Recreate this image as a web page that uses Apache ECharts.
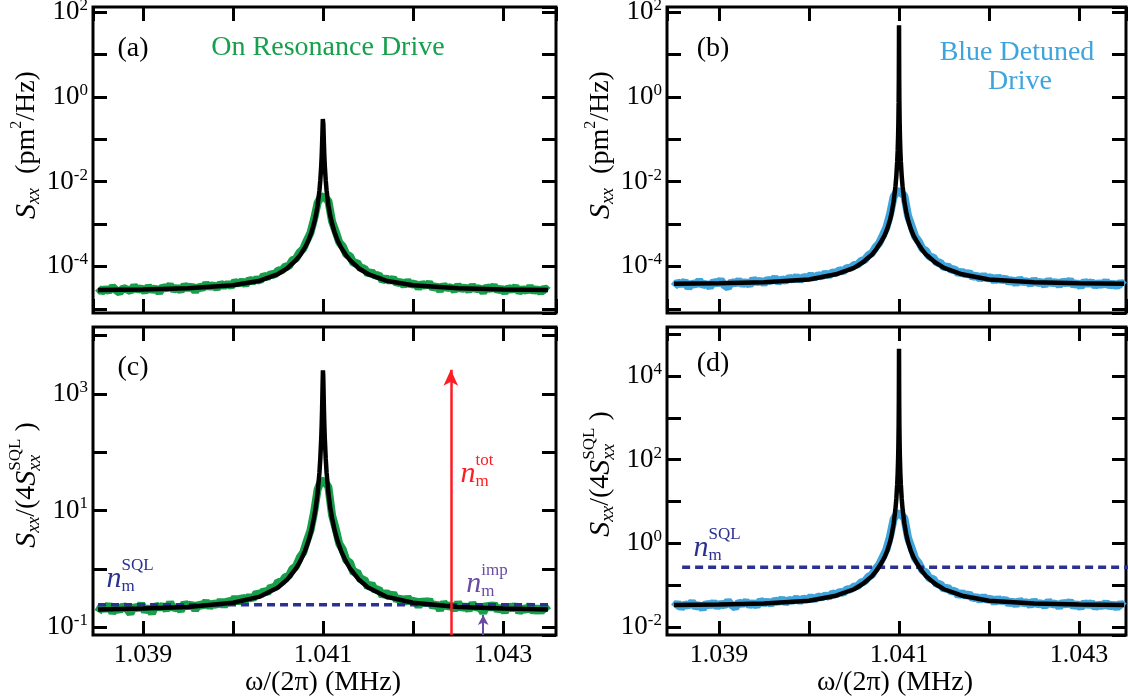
<!DOCTYPE html>
<html><head><meta charset="utf-8">
<script src="https://cdn.jsdelivr.net/npm/echarts@6/dist/echarts.min.js"></script>
<style>html,body{margin:0;padding:0;background:#fff}#c{width:1128px;height:697px}</style>
</head><body><div id="c"></div>
<script>
// ---------------- DATA ----------------
// measurement frequency grid (MHz)
const freqStart = 1.0385, freqStep = 0.00004, freqCount = 126;
// x tick labels
const xLabelVals = [1.039, 1.041, 1.043];
// y tick label exponents per panel
const yLabA = [2, 0, -2, -4], yLabB = [2, 0, -2, -4], yLabC = [3, 1, -1], yLabD = [4, 2, 0, -2];

// (a) On resonance drive, measured S_xx (pm^2/Hz)
const greenA = [3.1e-5,2.5e-5,2.95e-5,2.6e-5,3.3e-5,2.75e-5,2.4e-5,3.1e-5,2.85e-5,2.6e-5,
3.45e-5,2.75e-5,3.1e-5,2.5e-5,3.35e-5,2.7e-5,3.1e-5,2.4e-5,3.35e-5,2.95e-5,
3.6e-5,2.75e-5,3.2e-5,2.65e-5,3.6e-5,2.95e-5,3.5e-5,2.55e-5,3.4e-5,3.0e-5,
3.9e-5,3.2e-5,3.7e-5,3.0e-5,3.95e-5,3.4e-5,3.9e-5,3.4e-5,4.4e-5,3.85e-5,
4.5e-5,3.7e-5,4.9e-5,4.35e-5,5.0e-5,4.55e-5,6.1e-5,5.5e-5,6.7e-5,6.2e-5,
8.1e-5,7.9e-5,1.0e-4,1.01e-4,1.4e-4,1.53e-4,2.14e-4,2.6e-4,4.1e-4,6.1e-4,
1.29e-3,3.16e-3,4.5e-3,
4.2e-3,3.46e-3,1.16e-3,6.7e-4,3.7e-4,2.96e-4,1.9e-4,1.75e-4,1.17e-4,1.22e-4,
8.9e-5,9.0e-5,6.5e-5,7.5e-5,5.9e-5,6.3e-5,4.6e-5,5.3e-5,4.45e-5,5.25e-5,
3.95e-5,4.4e-5,3.55e-5,4.5e-5,3.65e-5,4.05e-5,3.1e-5,3.95e-5,3.4e-5,4.1e-5,
3.05e-5,3.5e-5,2.7e-5,3.6e-5,3.05e-5,3.25e-5,2.7e-5,3.55e-5,2.85e-5,3.25e-5,
2.7e-5,3.5e-5,2.85e-5,3.1e-5,2.45e-5,3.3e-5,2.85e-5,3.5e-5,2.65e-5,3.05e-5,
2.45e-5,3.15e-5,2.75e-5,3.3e-5,2.5e-5,2.95e-5,2.6e-5,3.3e-5,2.55e-5,3.0e-5,
2.4e-5,3.1e-5,2.65e-5];
// (b) Blue detuned drive, measured S_xx (pm^2/Hz)
const blueB = [3.3e-5,4.25e-5,3.7e-5,4.45e-5,3.1e-5,4.1e-5,3.6e-5,4.7e-5,3.55e-5,3.95e-5,
3.25e-5,4.45e-5,3.85e-5,4.75e-5,3.55e-5,3.15e-5,4.4e-5,3.85e-5,4.7e-5,3.7e-5,
4.35e-5,3.6e-5,5.05e-5,4.1e-5,4.7e-5,3.9e-5,4.95e-5,4.4e-5,5.35e-5,4.2e-5,
5.0e-5,4.5e-5,5.45e-5,4.85e-5,5.8e-5,4.65e-5,5.7e-5,5.25e-5,6.2e-5,5.3e-5,
6.25e-5,5.75e-5,6.85e-5,6.1e-5,7.2e-5,7.0e-5,8.15e-5,7.6e-5,9.2e-5,9.1e-5,
1.08e-4,1.1e-4,1.35e-4,1.43e-4,1.84e-4,2.07e-4,2.84e-4,3.55e-4,5.4e-4,8.3e-4,
1.69e-3,4.35e-3,6.0e-3,
5.5e-3,4.57e-3,1.57e-3,8.9e-4,5.0e-4,3.88e-4,2.59e-4,2.34e-4,1.65e-4,1.65e-4,
1.22e-4,1.23e-4,9.3e-5,1.02e-4,8.2e-5,8.55e-5,6.7e-5,7.7e-5,6.3e-5,7.15e-5,
5.55e-5,6.2e-5,5.0e-5,6.15e-5,5.1e-5,5.65e-5,4.45e-5,5.65e-5,4.6e-5,5.3e-5,
4.2e-5,4.9e-5,3.85e-5,5.05e-5,4.15e-5,4.6e-5,3.75e-5,4.85e-5,3.95e-5,4.4e-5,
3.55e-5,4.8e-5,3.85e-5,4.4e-5,3.55e-5,4.55e-5,3.85e-5,4.75e-5,3.55e-5,4.15e-5,
3.3e-5,4.5e-5,3.75e-5,4.35e-5,3.4e-5,4.15e-5,3.5e-5,4.55e-5,3.4e-5,4.05e-5,
3.3e-5,4.25e-5,3.55e-5];
// (c) On resonance, S_xx/(4 S_xx^SQL)
const greenC = [0.18,0.23,0.195,0.245,0.175,0.215,0.19,0.235,0.205,0.17,
0.23,0.2,0.25,0.185,0.22,0.17,0.24,0.21,0.235,0.195,
0.265,0.205,0.225,0.19,0.26,0.22,0.25,0.195,0.25,0.225,
0.275,0.22,0.26,0.235,0.285,0.23,0.285,0.265,0.32,0.26,
0.325,0.29,0.335,0.3,0.39,0.35,0.42,0.385,0.49,0.46,
0.6,0.58,0.72,0.75,1.0,1.1,1.55,1.9,3.0,4.5,
9.2,23,33,
31,25.3,8.4,4.9,2.7,2.13,1.39,1.27,0.85,0.88,
0.64,0.66,0.48,0.545,0.425,0.45,0.34,0.4,0.32,0.38,
0.285,0.32,0.255,0.325,0.265,0.29,0.225,0.29,0.245,0.295,
0.22,0.255,0.195,0.265,0.22,0.24,0.195,0.265,0.205,0.235,
0.195,0.255,0.21,0.225,0.175,0.245,0.205,0.25,0.19,0.225,
0.18,0.235,0.2,0.24,0.18,0.215,0.19,0.24,0.18,0.22,
0.18,0.225,0.19];
// (d) Blue detuned, S_xx/(4 S_xx^SQL)
const blueD = [0.030,0.0375,0.0285,0.0353,0.032,0.04,0.0297,0.0346,0.0272,0.0376,
0.0319,0.0394,0.03,0.0368,0.0321,0.0419,0.0334,0.029,0.0392,0.035,
0.041,0.0326,0.0382,0.0316,0.0437,0.0362,0.0414,0.035,0.0442,0.0388,
0.0473,0.0375,0.0446,0.0419,0.0485,0.0409,0.0487,0.0444,0.0524,0.0454,
0.054,0.0508,0.0568,0.0528,0.0643,0.0594,0.0692,0.0651,0.0795,0.0785,
0.0934,0.095,0.117,0.124,0.159,0.178,0.245,0.311,0.469,0.72,
1.46,3.76,5.2,
4.9,3.96,1.36,0.77,0.432,0.336,0.224,0.202,0.142,0.142,
0.105,0.107,0.0804,0.0895,0.0701,0.0738,0.0566,0.0665,0.0541,0.0625,
0.0475,0.0533,0.0434,0.0538,0.0438,0.0488,0.0378,0.0486,0.0401,0.046,
0.0356,0.0427,0.0331,0.0438,0.0365,0.04,0.0323,0.0429,0.034,0.0378,
0.0309,0.042,0.0338,0.0375,0.0299,0.0395,0.0334,0.0412,0.0307,0.0361,
0.0286,0.0388,0.0326,0.0383,0.0292,0.0356,0.0304,0.0392,0.0296,0.0356,
0.0285,0.0369,0.031];

// Lorentzian fit curves (black)
const fitFreq = [1.0385,1.039,1.0395,1.04,1.0403,1.0405,1.0406,1.0407,1.04075,1.0408,1.04084,1.04087,1.0409,
1.04092,1.04094,1.04096,1.04097,1.04098,1.040985,1.04099,1.040993,1.040996,1.040998,1.040999,1.041,
1.041001,1.041002,1.041004,1.041007,1.04101,1.041015,1.04102,1.04103,1.04104,1.04106,1.04108,1.0411,
1.04113,1.04116,1.0412,1.04125,1.0413,1.0414,1.0415,1.0417,1.042,1.0425,1.043,1.0435];
const fitA = [2.76e-5,2.85e-5,3.04e-5,3.6e-5,4.6e-5,6.6e-5,8.9e-5,1.4e-4,1.9e-4,2.8e-4,4.2e-4,6.2e-4,1.03e-3,
1.56e-3,2.75e-3,6.1e-3,1.08e-2,2.33e-2,3.9e-2,7.7e-2,0.128,0.22,0.30,0.33,0.34,
0.33,0.30,0.22,0.128,7.7e-2,3.9e-2,2.33e-2,1.08e-2,6.1e-3,2.75e-3,1.56e-3,1.03e-3,
6.2e-4,4.2e-4,2.8e-4,1.9e-4,1.4e-4,8.9e-5,6.6e-5,4.6e-5,3.6e-5,3.04e-5,2.85e-5,2.76e-5];
const fitB = [3.89e-5,4.0e-5,4.23e-5,4.9e-5,6.5e-5,9.2e-5,1.25e-4,1.9e-4,2.6e-4,3.8e-4,5.4e-4,7.8e-4,1.25e-3,
1.92e-3,3.37e-3,7.54e-3,1.33e-2,3.0e-2,5.3e-2,0.12,0.244,0.74,2.83,9.6,49,
9.6,2.83,0.74,0.244,0.12,5.3e-2,3.0e-2,1.33e-2,7.54e-3,3.37e-3,1.92e-3,1.25e-3,
7.8e-4,5.4e-4,3.8e-4,2.6e-4,1.9e-4,1.25e-4,9.2e-5,6.5e-5,4.9e-5,4.23e-5,4.0e-5,3.89e-5];
const fitC = [0.2,0.207,0.22,0.261,0.333,0.478,0.645,1.01,1.38,2.03,3.05,4.5,7.47,
11.3,19.9,44.2,78.3,169,283,558,928,1595,2175,2550,2750,
2550,2175,1595,928,558,283,169,78.3,44.2,19.9,11.3,7.47,
4.5,3.05,2.03,1.38,1.01,0.645,0.478,0.333,0.261,0.22,0.207,0.2];
const fitD = [0.0336,0.0346,0.0366,0.0424,0.056,0.08,0.108,0.165,0.225,0.33,0.467,0.675,1.08,
1.66,2.92,6.5,11.5,26,46,104,211,640,2450,8300,45000,
8300,2450,640,211,104,46,26,11.5,6.5,2.92,1.66,1.08,
0.675,0.467,0.33,0.225,0.165,0.108,0.08,0.056,0.0424,0.0366,0.0346,0.0336];

// annotation levels
const sqlLevelC = 0.24, sqlSpanC = [1.0385, 1.0435];
const sqlLevelD = 0.27, sqlSpanD = [1.03859, 1.04357];
const nTotFreq = 1.04242, nTotTop = 2600;
const nImpFreq = 1.04278, nImpTop = 0.16;

// ---------------- STYLE ----------------
const FONT = 'Liberation Serif';
const GREEN = '#16a04b', BLUE = '#3fa4dc', NAVY = '#2b3190', RED = '#ff1d25', PURPLE = '#6a4ba2';

const dataFreq = [];
for (let i = 0; i < freqCount; i++) dataFreq.push(+(freqStart + i * freqStep).toFixed(6));
const pairs = (xs, ys) => ys.map((v, i) => [xs[i], v]);

const panels = [
  {grid:{left:93, top:7, width:463, height:306}, x:[1.038444,1.043589], y:[7.94e-6,131.8], lab:yLabA, data:greenA, fit:fitA, col:GREEN, showX:false},
  {grid:{left:667, top:7, width:459, height:306}, x:[1.038422,1.043522], y:[7.94e-6,131.8], lab:yLabB, data:blueB, fit:fitB, col:BLUE, showX:false},
  {grid:{left:93, top:327, width:463, height:308}, x:[1.038444,1.043589], y:[0.0729,14125], lab:yLabC, data:greenC, fit:fitC, col:GREEN, showX:true},
  {grid:{left:667, top:327, width:459, height:308}, x:[1.038422,1.043522], y:[0.00645,148000], lab:yLabD, data:blueD, fit:fitD, col:BLUE, showX:true}
];

const tickStyle = {show:true, inside:true, length:14, lineStyle:{color:'#000', width:3}};
const grids = [], xAxes = [], yAxes = [], series = [];
panels.forEach((p, gi) => {
  grids.push(Object.assign({show:true, borderColor:'#000', borderWidth:3, containLabel:false, outerBoundsMode:'none'}, p.grid));
  xAxes.push({type:'value', gridIndex:gi, position:'bottom', min:p.x[0], max:p.x[1], splitLine:{show:false},
    axisLine:{show:false}, axisTick:tickStyle,
    axisLabel:{show:p.showX, margin:7, color:'#000', fontFamily:FONT, fontSize:26, showMinLabel:false, showMaxLabel:false, hideOverlap:false,
      formatter: v => xLabelVals.some(t => Math.abs(t - v) < 1e-7) ? v.toFixed(3) : ''}});
  xAxes.push({type:'value', gridIndex:gi, position:'top', min:p.x[0], max:p.x[1], splitLine:{show:false},
    axisLine:{show:false}, axisTick:tickStyle, axisLabel:{show:false}});
  const rich = {b:{fontFamily:FONT, fontSize:27, color:'#000', lineHeight:30}, s:{fontFamily:FONT, fontSize:17, color:'#000', lineHeight:14, verticalAlign:'top'}};
  yAxes.push({type:'log', logBase:10, gridIndex:gi, position:'left', min:p.y[0], max:p.y[1], splitLine:{show:false},
    axisLine:{show:false}, axisTick:tickStyle, minorTick:{show:false},
    axisLabel:{show:true, margin:5, fontFamily:FONT, showMinLabel:false, showMaxLabel:false, hideOverlap:false, rich:rich,
      formatter: v => { const e = Math.log10(v), r = Math.round(e); return (Math.abs(e - r) < 1e-6 && p.lab.includes(r)) ? '{b|10}{s|' + r + '}' : ''; }}});
  yAxes.push({type:'log', logBase:10, gridIndex:gi, position:'right', min:p.y[0], max:p.y[1], splitLine:{show:false},
    axisLine:{show:false}, axisTick:tickStyle, axisLabel:{show:false}});
  const ax = {xAxisIndex:2*gi, yAxisIndex:2*gi};
  series.push(Object.assign({type:'line', data:pairs(dataFreq, p.data), showSymbol:false, symbol:'none', z:2,
    lineStyle:{color:p.col, width:8}, silent:true}, ax));
  if (gi === 2) series.push(Object.assign({type:'line', data:[[sqlSpanC[0], sqlLevelC],[sqlSpanC[1], sqlLevelC]], symbol:'none', z:3,
    lineStyle:{color:NAVY, width:3.5, type:[8,5]}, silent:true}, ax));
  if (gi === 3) series.push(Object.assign({type:'line', data:[[sqlSpanD[0], sqlLevelD],[sqlSpanD[1], sqlLevelD]], symbol:'none', z:3,
    lineStyle:{color:NAVY, width:3.5, type:[8,5]}, silent:true}, ax));
  series.push(Object.assign({type:'line', data:pairs(fitFreq, p.fit), showSymbol:false, symbol:'none', z:4,
    lineStyle:{color:'#000', width:4.5}, silent:true}, ax));
  if (gi === 2) {
    series.push(Object.assign({type:'line', data:[[nTotFreq, nTotTop]], symbol:'none', showSymbol:false, z:5, lineStyle:{width:0},
      markLine:{silent:true, animation:false, symbol:['none','arrow'], symbolSize:[11,16], label:{show:false},
        lineStyle:{color:RED, width:2.5, type:'solid'},
        data:[[{coord:[nTotFreq, p.y[0]]},{coord:[nTotFreq, nTotTop]}]]}}, ax));
    series.push(Object.assign({type:'line', data:[[nImpFreq, nImpTop]], symbol:'none', showSymbol:false, z:5, lineStyle:{width:0},
      markLine:{silent:true, animation:false, symbol:['none','arrow'], symbolSize:[8,10], label:{show:false},
        lineStyle:{color:PURPLE, width:2, type:'solid'},
        data:[[{coord:[nImpFreq, p.y[0]]},{coord:[nImpFreq, nImpTop]}]]}}, ax));
  }
});

// ---------------- TEXT HELPERS ----------------
const mctx = document.createElement('canvas').getContext('2d');
function tw(t, s, it) { mctx.font = (it ? 'italic ' : '') + s + 'px ' + FONT; return mctx.measureText(t).width; }
function row(pieces, cx, cy, rot, color) {
  let x = 0, prevX = 0; const ch = [];
  pieces.forEach(p => {
    const w = tw(p.t, p.s, p.i);
    const px = p.stack ? prevX : x;
    ch.push({type:'text', x:px, y:(p.dy || 0), silent:true,
      style:{text:p.t, fontFamily:FONT, fontSize:p.s, fontStyle:p.i ? 'italic' : 'normal', fill:p.c || color, align:'left', verticalAlign:'middle'}});
    if (p.stack) x = Math.max(x, px + w); else { prevX = px; x = px + w; }
  });
  ch.forEach(c => { c.x -= x / 2; });
  return {type:'group', x:cx, y:cy, rotation:rot || 0, children:ch};
}
const R90 = Math.PI / 2;
const titleAB = [{t:'S', s:30, i:1}, {t:'xx', s:18, i:1, dy:7}, {t:'  (pm', s:28}, {t:'2', s:16, dy:-10}, {t:'/Hz)', s:28}];
const titleCD = [{t:'S', s:30, i:1}, {t:'xx', s:18, i:1, dy:7}, {t:'/(4', s:28}, {t:'S', s:30, i:1}, {t:'SQL', s:17, dy:-11}, {t:'xx', s:18, i:1, dy:8, stack:1}, {t:' )', s:28}];
const nLab = sup => [{t:'n', s:30, i:1}, {t:sup, s:17, dy:-13}, {t:'m', s:17, dy:8, stack:1}];
const xTitle = [{t:'\u03c9/(2\u03c0) (MHz)', s:28}];

const graphics = [
  row(titleAB, 27, 145, R90, '#000'),
  row(titleAB, 601, 145, R90, '#000'),
  row(titleCD, 27, 485, R90, '#000'),
  row(titleCD, 601, 474, R90, '#000'),
  row(xTitle, 323, 683, 0, '#000'),
  row(xTitle, 895, 683, 0, '#000'),
  row([{t:'(a)', s:28}], 133, 49, 0, '#000'),
  row([{t:'(b)', s:28}], 713, 49, 0, '#000'),
  row([{t:'(c)', s:28}], 133, 368, 0, '#000'),
  row([{t:'(d)', s:28}], 713, 364, 0, '#000'),
  row([{t:'On Resonance Drive', s:28}], 328, 48, 0, GREEN),
  row([{t:'Blue Detuned', s:28}], 1017, 53, 0, BLUE),
  row([{t:'Drive', s:28}], 1020, 82, 0, BLUE),
  row(nLab('SQL'), 130, 579, 0, NAVY),
  row(nLab('tot'), 477, 474, 0, RED),
  row(nLab('imp'), 487, 584, 0, PURPLE),
  row(nLab('SQL'), 717, 548, 0, NAVY)
];

const chart = echarts.init(document.getElementById('c'), null, {renderer:'canvas'});
chart.setOption({
  animation:false, backgroundColor:'#fff',
  grid:grids, xAxis:xAxes, yAxis:yAxes, series:series,
  graphic:{elements:graphics}
});
</script></body></html>
